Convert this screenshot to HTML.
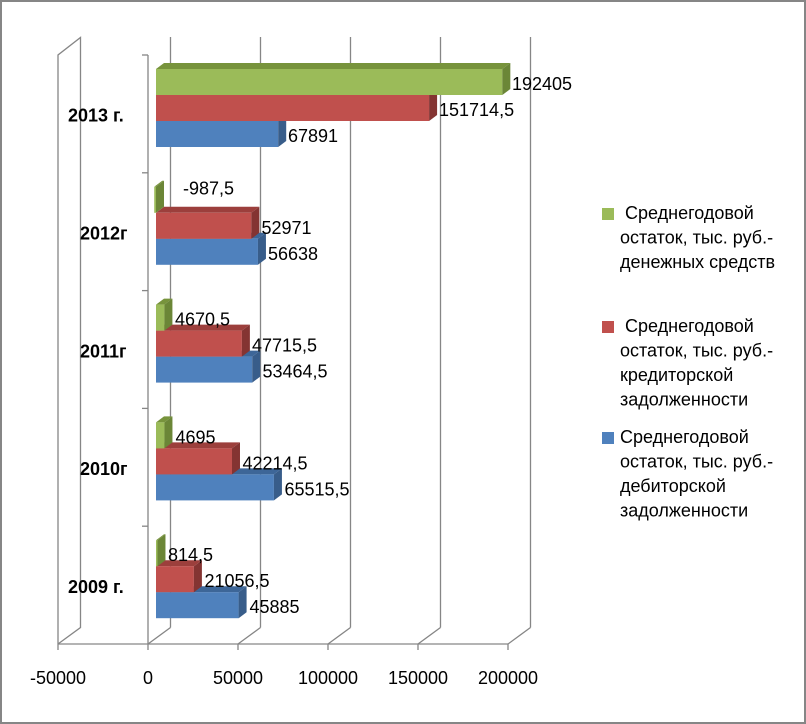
<!DOCTYPE html>
<html>
<head>
<meta charset="utf-8">
<style>
html,body{margin:0;padding:0;background:#fff;}
svg{display:block;}
text{font-family:"Liberation Sans","DejaVu Sans",sans-serif;fill:#000;}
</style>
</head>
<body>
<svg width="806" height="724" viewBox="0 0 806 724" xmlns="http://www.w3.org/2000/svg">
<rect x="0" y="0" width="806" height="724" fill="#fff"/>
<rect x="1" y="1" width="804" height="722" fill="none" stroke="#868686" stroke-width="2"/>

<!-- walls / gridlines -->
<g stroke="#868686" stroke-width="1.3" fill="none">
  <polyline points="58,644 58,55 80.5,37.5 80.5,627.5 58,644"/>
  <line x1="170.5" y1="37" x2="170.5" y2="627.5"/>
  <line x1="260.5" y1="37" x2="260.5" y2="627.5"/>
  <line x1="350.5" y1="37" x2="350.5" y2="627.5"/>
  <line x1="440.5" y1="37" x2="440.5" y2="627.5"/>
  <line x1="530.5" y1="37" x2="530.5" y2="627.5"/>
  <line x1="148" y1="644" x2="170.5" y2="627.5"/>
  <line x1="238" y1="644" x2="260.5" y2="627.5"/>
  <line x1="328" y1="644" x2="350.5" y2="627.5"/>
  <line x1="418" y1="644" x2="440.5" y2="627.5"/>
  <line x1="508" y1="644" x2="530.5" y2="627.5"/>
  <line x1="58" y1="644" x2="508" y2="644"/>
  <line x1="58" y1="644" x2="58" y2="650"/>
  <line x1="148" y1="644" x2="148" y2="650"/>
  <line x1="238" y1="644" x2="238" y2="650"/>
  <line x1="328" y1="644" x2="328" y2="650"/>
  <line x1="418" y1="644" x2="418" y2="650"/>
  <line x1="508" y1="644" x2="508" y2="650"/>
  <!-- category axis -->
  <line x1="148" y1="55" x2="148" y2="644"/>
  <line x1="142" y1="55" x2="148" y2="55"/>
  <line x1="142" y1="172.8" x2="148" y2="172.8"/>
  <line x1="142" y1="290.6" x2="148" y2="290.6"/>
  <line x1="142" y1="408.4" x2="148" y2="408.4"/>
  <line x1="142" y1="526.2" x2="148" y2="526.2"/>
</g>

<!-- Bars: order blue, red, green per category -->
<!-- 2013 -->
<g>
  <polygon points="156,121 164,115 286.2,115 278.2,121" fill="#3d6698"/>
  <rect x="156" y="121" width="122.2" height="26" fill="#4f81bd"/>
  <polygon points="278.2,121 286.2,115 286.2,141 278.2,147" fill="#385d8a"/>

  <polygon points="156,95 164,89 437.09,89 429.09,95" fill="#9c3f3c"/>
  <rect x="156" y="95" width="273.09" height="26" fill="#c0504d"/>
  <polygon points="429.09,95 437.09,89 437.09,115 429.09,121" fill="#843432"/>

  <polygon points="156,69 164,63 510.33,63 502.33,69" fill="#77933c"/>
  <rect x="156" y="69" width="346.33" height="26" fill="#9bbb59"/>
  <polygon points="502.33,69 510.33,63 510.33,89 502.33,95" fill="#6b8637"/>
</g>
<!-- 2012 -->
<g>
  <polygon points="156,238.8 164,232.8 265.95,232.8 257.95,238.8" fill="#3d6698"/>
  <rect x="156" y="238.8" width="101.95" height="26" fill="#4f81bd"/>
  <polygon points="257.95,238.8 265.95,232.8 265.95,258.8 257.95,264.8" fill="#385d8a"/>

  <polygon points="156,212.8 164,206.8 259.35,206.8 251.35,212.8" fill="#9c3f3c"/>
  <rect x="156" y="212.8" width="95.35" height="26" fill="#c0504d"/>
  <polygon points="251.35,212.8 259.35,206.8 259.35,232.8 251.35,238.8" fill="#843432"/>

  <polygon points="154.22,186.8 162.22,180.8 164,180.8 156,186.8" fill="#77933c"/>
  <rect x="154.22" y="186.8" width="1.78" height="26" fill="#9bbb59"/>
  <polygon points="156,186.8 164,180.8 164,206.8 156,212.8" fill="#6b8637"/>
</g>
<!-- 2011 -->
<g>
  <polygon points="156,356.6 164,350.6 260.24,350.6 252.24,356.6" fill="#3d6698"/>
  <rect x="156" y="356.6" width="96.24" height="26" fill="#4f81bd"/>
  <polygon points="252.24,356.6 260.24,350.6 260.24,376.6 252.24,382.6" fill="#385d8a"/>

  <polygon points="156,330.6 164,324.6 249.89,324.6 241.89,330.6" fill="#9c3f3c"/>
  <rect x="156" y="330.6" width="85.89" height="26" fill="#c0504d"/>
  <polygon points="241.89,330.6 249.89,324.6 249.89,350.6 241.89,356.6" fill="#843432"/>

  <polygon points="156,304.6 164,298.6 172.41,298.6 164.41,304.6" fill="#77933c"/>
  <rect x="156" y="304.6" width="8.41" height="26" fill="#9bbb59"/>
  <polygon points="164.41,304.6 172.41,298.6 172.41,324.6 164.41,330.6" fill="#6b8637"/>
</g>
<!-- 2010 -->
<g>
  <polygon points="156,474.4 164,468.4 281.93,468.4 273.93,474.4" fill="#3d6698"/>
  <rect x="156" y="474.4" width="117.93" height="26" fill="#4f81bd"/>
  <polygon points="273.93,474.4 281.93,468.4 281.93,494.4 273.93,500.4" fill="#385d8a"/>

  <polygon points="156,448.4 164,442.4 239.99,442.4 231.99,448.4" fill="#9c3f3c"/>
  <rect x="156" y="448.4" width="75.99" height="26" fill="#c0504d"/>
  <polygon points="231.99,448.4 239.99,442.4 239.99,468.4 231.99,474.4" fill="#843432"/>

  <polygon points="156,422.4 164,416.4 172.45,416.4 164.45,422.4" fill="#77933c"/>
  <rect x="156" y="422.4" width="8.45" height="26" fill="#9bbb59"/>
  <polygon points="164.45,422.4 172.45,416.4 172.45,442.4 164.45,448.4" fill="#6b8637"/>
</g>
<!-- 2009 -->
<g>
  <polygon points="156,592.2 164,586.2 246.59,586.2 238.59,592.2" fill="#3d6698"/>
  <rect x="156" y="592.2" width="82.59" height="26" fill="#4f81bd"/>
  <polygon points="238.59,592.2 246.59,586.2 246.59,612.2 238.59,618.2" fill="#385d8a"/>

  <polygon points="156,566.2 164,560.2 201.9,560.2 193.9,566.2" fill="#9c3f3c"/>
  <rect x="156" y="566.2" width="37.9" height="26" fill="#c0504d"/>
  <polygon points="193.9,566.2 201.9,560.2 201.9,586.2 193.9,592.2" fill="#843432"/>

  <polygon points="156,540.2 164,534.2 165.47,534.2 157.47,540.2" fill="#77933c"/>
  <rect x="156" y="540.2" width="1.47" height="26" fill="#9bbb59"/>
  <polygon points="157.47,540.2 165.47,534.2 165.47,560.2 157.47,566.2" fill="#6b8637"/>
</g>

<!-- data labels -->
<g font-size="18">
  <text x="512" y="90">192405</text>
  <text x="439" y="116">151714,5</text>
  <text x="288" y="142">67891</text>

  <text x="183" y="194.5">-987,5</text>
  <text x="261.5" y="234">52971</text>
  <text x="268" y="260">56638</text>

  <text x="175" y="325.6">4670,5</text>
  <text x="252" y="351.6">47715,5</text>
  <text x="262.5" y="377.6">53464,5</text>

  <text x="175.5" y="443.4">4695</text>
  <text x="242.5" y="469.4">42214,5</text>
  <text x="284.5" y="495.4">65515,5</text>

  <text x="168" y="561.2">814,5</text>
  <text x="204.5" y="587.2">21056,5</text>
  <text x="249.5" y="613.2">45885</text>
</g>

<!-- category labels -->
<g font-size="18" font-weight="bold" font-family="Liberation Sans, Noto Sans CJK SC, sans-serif">
  <text x="68" y="121.7">2013 г.</text>
  <text x="80" y="239.5">2012г</text>
  <text x="80" y="357.3">2011г</text>
  <text x="80" y="475.1">2010г</text>
  <text x="68" y="592.9">2009 г.</text>
</g>

<!-- value axis labels -->
<g font-size="18" text-anchor="middle">
  <text x="58" y="684">-50000</text>
  <text x="148" y="684">0</text>
  <text x="238" y="684">50000</text>
  <text x="328" y="684">100000</text>
  <text x="418" y="684">150000</text>
  <text x="508" y="684">200000</text>
</g>

<!-- legend -->
<rect x="602" y="208" width="12" height="12" fill="#9bbb59"/>
<rect x="602" y="321" width="12" height="12" fill="#c0504d"/>
<rect x="602" y="432" width="12" height="12" fill="#4f81bd"/>
<g font-size="18">
  <text x="625" y="219">Среднегодовой</text>
  <text x="620" y="243.5">остаток, тыс. руб.-</text>
  <text x="620" y="268">денежных средств</text>

  <text x="625" y="332">Среднегодовой</text>
  <text x="620" y="356.5">остаток, тыс. руб.-</text>
  <text x="620" y="381">кредиторской</text>
  <text x="620" y="405.5">задолженности</text>

  <text x="620" y="443">Среднегодовой</text>
  <text x="620" y="467.5">остаток, тыс. руб.-</text>
  <text x="620" y="492">дебиторской</text>
  <text x="620" y="516.5">задолженности</text>
</g>
</svg>
</body>
</html>
